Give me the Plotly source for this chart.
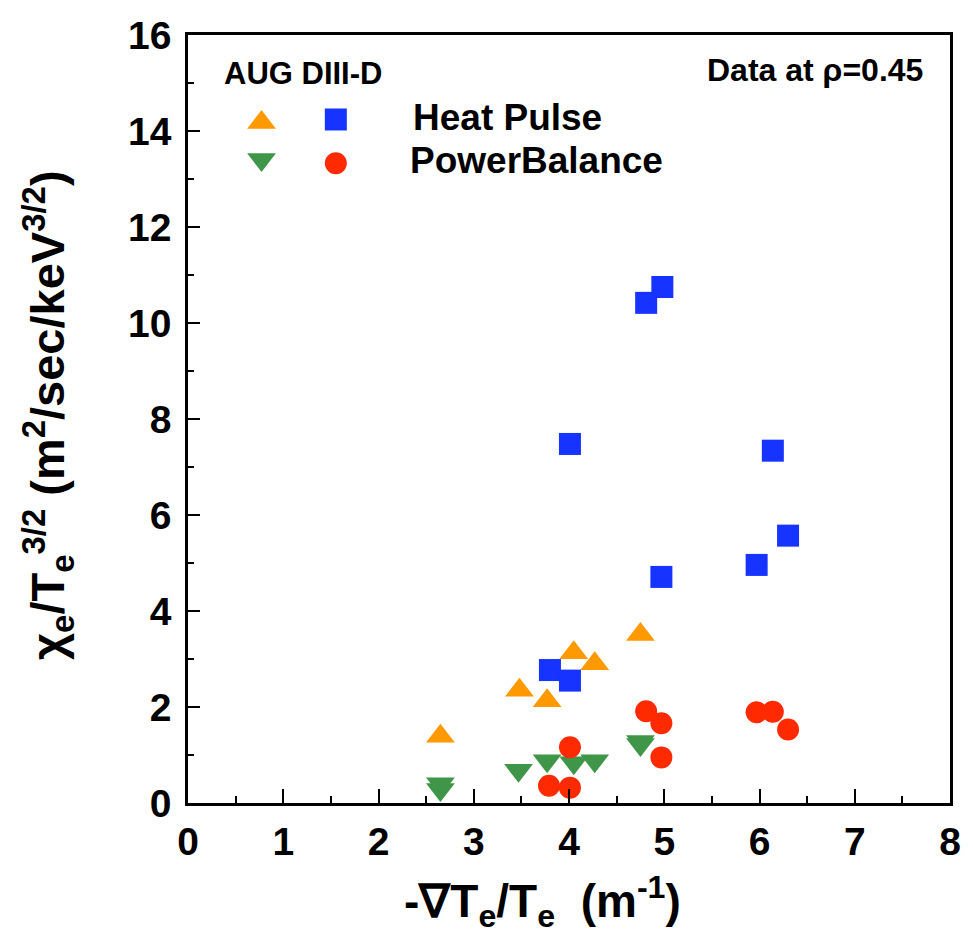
import plotly.graph_objects as go

# ---- data ----
diiid_hp_x = [3.80, 4.01, 4.01, 4.81, 4.98, 4.97, 5.97, 6.14, 6.30]
diiid_hp_y = [2.77, 2.55, 7.48, 10.42, 10.75, 4.71, 4.96, 7.34, 5.57]

diiid_pb_x = [3.79, 4.01, 4.01, 4.81, 4.97, 4.97, 5.97, 6.14, 6.30]
diiid_pb_y = [0.36, 0.32, 1.16, 1.91, 1.66, 0.95, 1.89, 1.90, 1.53]

aug_hp_x = [2.65, 3.48, 3.77, 4.05, 4.27, 4.75]
aug_hp_y = [1.39, 2.35, 2.13, 3.13, 2.90, 3.51]

aug_pb_x = [2.65, 2.65, 3.47, 3.77, 4.05, 4.27, 4.75, 4.75]
aug_pb_y = [0.40, 0.28, 0.68, 0.88, 0.84, 0.88, 1.28, 1.22]

x_ticks = [0, 1, 2, 3, 4, 5, 6, 7, 8]
y_ticks = [0, 2, 4, 6, 8, 10, 12, 14, 16]

ORANGE = "#ff9900"
BLUE = "#1733ff"
GREEN = "#3f9648"
RED = "#ff2a00"
FONT = "Liberation Sans, Arial, sans-serif"

TRI = 25
SQ = 22
CIR = 22

fig = go.Figure()

fig.add_trace(go.Scatter(x=aug_hp_x, y=aug_hp_y, mode="markers", cliponaxis=False,
                         marker=dict(symbol="triangle-up", size=TRI, color=ORANGE, line=dict(width=0)),
                         showlegend=False))
fig.add_trace(go.Scatter(x=aug_pb_x, y=aug_pb_y, mode="markers", cliponaxis=False,
                         marker=dict(symbol="triangle-down", size=TRI, color=GREEN, line=dict(width=0)),
                         showlegend=False))
fig.add_trace(go.Scatter(x=diiid_hp_x, y=diiid_hp_y, mode="markers", cliponaxis=False,
                         marker=dict(symbol="square", size=SQ, color=BLUE, line=dict(width=0)),
                         showlegend=False))
fig.add_trace(go.Scatter(x=diiid_pb_x, y=diiid_pb_y, mode="markers", cliponaxis=False,
                         marker=dict(symbol="circle", size=CIR, color=RED, line=dict(width=0)),
                         showlegend=False))

# legend keys on an overlay axis in paper-like units
legend_keys = [
    ("triangle-up", ORANGE, TRI, 0.0965, 0.886),
    ("square", BLUE, SQ, 0.194, 0.890),
    ("triangle-down", GREEN, TRI, 0.0965, 0.838),
    ("circle", RED, CIR, 0.194, 0.833),
]
for sym, col, sz, kx, ky in legend_keys:
    fig.add_trace(go.Scatter(x=[kx], y=[ky], mode="markers", xaxis="x2", yaxis="y2",
                             marker=dict(symbol=sym, size=sz, color=col, line=dict(width=0)),
                             showlegend=False, cliponaxis=False))

axis_common = dict(
    showline=True, linecolor="black", linewidth=2.5, mirror=True,
    showgrid=False, zeroline=False,
    ticks="inside", tickcolor="black", tickwidth=2,
    tickfont=dict(family=FONT, size=39, color="black", weight="bold"),
)

fig.update_layout(
    width=973, height=947,
    margin=dict(l=188, r=18, t=35, b=144),
    paper_bgcolor="white", plot_bgcolor="white",
    xaxis=dict(range=[0, 8], tickvals=x_ticks, ticklen=14, ticklabelstandoff=2,
               minor=dict(dtick=0.5, ticks="inside", ticklen=7, tickcolor="black", tickwidth=1.5),
               **axis_common),
    yaxis=dict(range=[0, 16], tickvals=y_ticks, ticklen=12, ticklabelstandoff=6,
               minor=dict(dtick=1, ticks="inside", ticklen=6, tickcolor="black", tickwidth=1.5),
               **axis_common),
    xaxis2=dict(range=[0, 1], overlaying="x", visible=False, fixedrange=True),
    yaxis2=dict(range=[0, 1], overlaying="y", visible=False, fixedrange=True),
)

ann = [
    dict(text="<b>AUG DIII-D</b>", x=0.044, y=0.950, xanchor="left", yanchor="middle", size=31),
    dict(text="<b>Data at ρ=0.45</b>", x=0.967, y=0.954, xanchor="right", yanchor="middle", size=32),
    dict(text="<b>Heat Pulse</b>", x=0.293, y=0.892, xanchor="left", yanchor="middle", size=37),
    dict(text="<b>PowerBalance</b>", x=0.289, y=0.837, xanchor="left", yanchor="middle", size=37),
]
for a in ann:
    fig.add_annotation(text=a["text"], x=a["x"], y=a["y"], xref="paper", yref="paper",
                       xanchor=a["xanchor"], yanchor=a["yanchor"], showarrow=False,
                       font=dict(family=FONT, size=a["size"], color="black"))

# axis titles
fig.add_annotation(text="<b>-∇T<sub>e</sub>/T<sub>e</sub>  (m<sup>-1</sup>)</b>",
                   x=0.465, y=-0.128, xref="paper", yref="paper",
                   xanchor="center", yanchor="middle", showarrow=False,
                   font=dict(family=FONT, size=46, color="black"))
fig.add_annotation(text="<b>χ<sub>e</sub>/T<sub>e</sub><sup>3/2</sup> (m<sup>2</sup>/sec/keV<sup>3/2</sup>)</b>",
                   x=-0.184, y=0.505, xref="paper", yref="paper", textangle=-90,
                   xanchor="center", yanchor="middle", showarrow=False,
                   font=dict(family=FONT, size=47, color="black"))

fig.write_html("out.html")
